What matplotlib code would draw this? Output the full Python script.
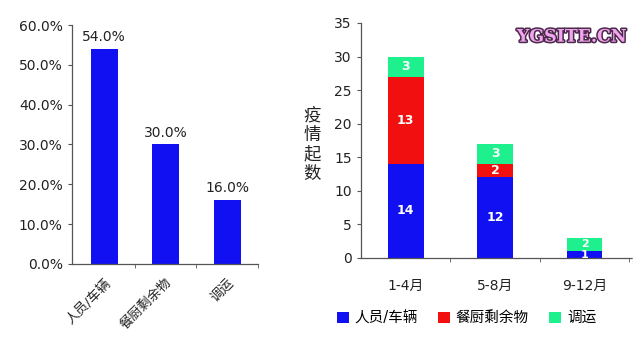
import numpy as np
import matplotlib.pyplot as plt
import matplotlib.patheffects as pe
from matplotlib.ticker import FuncFormatter

plt.rcParams['font.family'] = ['DejaVu Sans', 'Noto Sans CJK SC']

# share of outbreaks by cause
causes = ['人员/车辆', '餐厨剩余物', '调运']
shares = [0.54, 0.30, 0.16]

# outbreak counts per period, stacked by cause
periods = ['1-4月', '5-8月', '9-12月']
people = [14, 12, 1]
kitchen = [13, 2, 0]
transport = [3, 3, 2]

blue = '#1010f2'
red = '#f20f0f'
green = '#1ef08e'
axis_col = '#555555'

fig = plt.figure(figsize=(6.41, 3.38), dpi=100)

# left: percentages
ax1 = fig.add_axes([0.112, 0.219, 0.29, 0.707])
x1 = np.arange(len(causes))
bars = ax1.bar(x1, shares, width=0.44, color=blue)
for b, v in zip(bars, shares):
    ax1.text(b.get_x() + b.get_width() / 2, v + 0.012, f'{v*100:.1f}%',
             ha='center', va='bottom', fontsize=10, color='#222222')
ax1.set_ylim(0, 0.6)
ax1.set_xlim(-0.53, 2.5)
ax1.set_yticks(np.arange(0, 0.61, 0.1))
ax1.yaxis.set_major_formatter(FuncFormatter(lambda v, p: f'{v*100:.1f}%'))
ax1.set_xticks(x1)
ax1.set_xticklabels(causes, rotation=45, ha='right', rotation_mode='anchor',
                    fontsize=9.5, color='#222222')
ax1.set_xticks([0.5, 1.5, 2.5], minor=True)
ax1.tick_params(axis='x', which='major', length=0, pad=9)
ax1.tick_params(axis='x', which='minor', length=3, color=axis_col)
ax1.tick_params(axis='y', length=3, color=axis_col, labelsize=10,
                labelcolor='#222222')

# right: stacked counts
ax2 = fig.add_axes([0.563, 0.237, 0.423, 0.695])
x2 = np.arange(len(periods))
w = 0.4
ax2.bar(x2, people, width=w, color=blue, label='人员/车辆')
ax2.bar(x2, kitchen, width=w, bottom=people, color=red, label='餐厨剩余物')
base = np.array(people) + np.array(kitchen)
ax2.bar(x2, transport, width=w, bottom=base, color=green, label='调运')

for i in range(len(periods)):
    bottom = 0
    fs = 9 if people[i] + kitchen[i] + transport[i] > 5 else 8
    for vals in (people, kitchen, transport):
        v = vals[i]
        if v > 0:
            ax2.text(x2[i], bottom + v / 2, str(v), ha='center', va='center',
                     color='white', fontsize=fs, fontweight='bold')
        bottom += v

ax2.set_ylim(0, 35)
ax2.set_xlim(-0.5, 2.53)
ax2.set_yticks(np.arange(0, 36, 5))
ax2.set_xticks(x2)
ax2.set_xticklabels(periods, fontsize=10, color='#222222')
ax2.set_xticks([0.5, 1.5, 2.5], minor=True)
ax2.tick_params(axis='x', which='major', length=0, pad=15)
ax2.tick_params(axis='x', which='minor', length=3, color=axis_col)
ax2.tick_params(axis='y', length=3, color=axis_col, labelsize=10,
                labelcolor='#222222')

for ax in (ax1, ax2):
    for s in ('top', 'right'):
        ax.spines[s].set_visible(False)
    for s in ('left', 'bottom'):
        ax.spines[s].set_color(axis_col)
        ax.spines[s].set_linewidth(0.9)
        ax.spines[s].set_linestyle((0, (1.5, 1)))

fig.text(0.487, 0.572, '疫\n情\n起\n数', ha='center', va='center',
         fontsize=12.5, linespacing=1.12, color='#222222')

fig.legend(loc='center', bbox_to_anchor=(0.728, 0.06), ncol=3, frameon=False,
           fontsize=10.5, handlelength=0.8, handleheight=0.8,
           handletextpad=0.4, columnspacing=1.4)

# watermark
fig.text(0.892, 0.89, 'YGSITE.CN', ha='center', va='center', fontsize=12.5,
         fontweight='bold', family='DejaVu Serif', color='#f4a4ee',
         path_effects=[pe.withStroke(linewidth=2.2, foreground='#4a2a4a')])

fig.savefig('out.png', dpi=100)
